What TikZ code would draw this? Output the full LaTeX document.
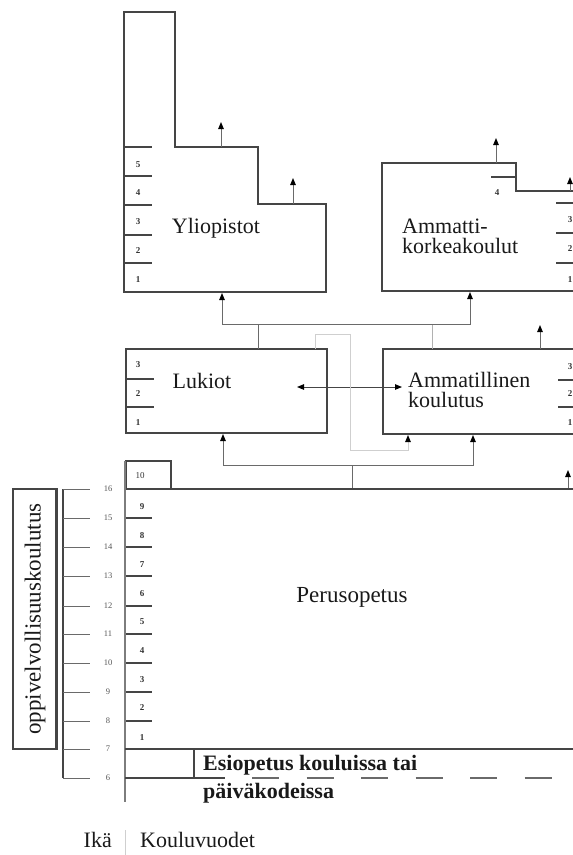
\documentclass[tikz,border=0pt]{standalone}
\usepackage{fontspec}
\setmainfont{Liberation Serif}
\usetikzlibrary{arrows.meta}
\definecolor{boxc}{HTML}{454545}
\definecolor{connc}{HTML}{6A6A6A}
\definecolor{lightc}{HTML}{CFCFCF}
\definecolor{agec}{HTML}{555555}
\newcommand\lblfont{\fontsize{22}{20}\selectfont}
\begin{document}
\begin{tikzpicture}[x=1pt,y=-1pt,
  box/.style={draw=boxc, line width=1.4pt},
  tick/.style={draw=boxc, line width=1.1pt},
  conn/.style={draw=connc, line width=1pt},
  lightline/.style={draw=lightc, line width=1pt},
  tip/.style={-{Triangle[length=7pt,width=5.5pt,color=black]}},
  arr/.style={conn, tip},
  lbl/.style={font=\lblfont, text=black!90, inner sep=0pt, align=left},
  yr/.style={font=\fontsize{9}{9}\selectfont\bfseries, text=black!80, inner sep=0pt},
  age/.style={font=\fontsize{8.5}{9}\selectfont, text=agec, inner sep=0pt}]
\useasboundingbox (0,0) rectangle (573,855);
\clip (0,0) rectangle (573,855);

% ---------------- Yliopistot
\draw[box] (124,12) -- (175,12) -- (175,147) -- (258,147) -- (258,204) -- (326,204) -- (326,292) -- (124,292) -- cycle;
\foreach \y in {147,176,205,235,263} \draw[tick] (124,\y) -- (152,\y);
\foreach \n/\y in {5/165,4/193,3/222,2/251,1/280} \node[yr] (ylioyr\n) at (138,\y) {\n};
\node[lbl, anchor=base] (ylio) at (216,233) {Yliopistot};
\coordinate (yA1) at (221,147); \coordinate (yA1e) at (221,122);
\coordinate (yA2) at (293,204); \coordinate (yA2e) at (293,178);
\draw[arr] (yA1) -- (yA1e);
\draw[arr] (yA2) -- (yA2e);

% ---------------- Ammattikorkeakoulut
\draw[box] (590,191) -- (516,191) -- (516,163) -- (382,163) -- (382,291) -- (590,291);
\draw[tick] (491,177) -- (516,177);
\draw[boxc, line width=2pt] (530,191) -- (541,191);
\node[yr] (akkyr4) at (497,193) {4};
\foreach \y in {203,233,263} \draw[tick] (556,\y) -- (590,\y);
\foreach \n/\y in {3/220,2/249,1/280} \node[yr] (akkyr\n) at (570,\y) {\n};
\node[lbl, anchor=base west] (akk) at (402,253) {Ammatti-\\korkeakoulut};
\coordinate (aA1) at (496,163); \coordinate (aA1e) at (496,138);
\coordinate (aA2) at (570,191); \coordinate (aA2e) at (570,177);
\draw[arr] (aA1) -- (aA1e);
\draw[arr] (aA2) -- (aA2e);

% ---------------- Lukiot
\draw[box] (126,349) rectangle (327,433);
\foreach \y in {379,407} \draw[tick] (126,\y) -- (154,\y);
\foreach \n/\y in {3/365,2/394,1/423} \node[yr] (lukyr\n) at (138,\y) {\n};
\node[lbl, anchor=base] (luk) at (202,388) {Lukiot};

% ---------------- Ammatillinen koulutus
\draw[box] (590,349) -- (383,349) -- (383,434) -- (590,434);
\foreach \y in {380,407} \draw[tick] (558,\y) -- (590,\y);
\foreach \n/\y in {3/367,2/394,1/423} \node[yr] (ammyr\n) at (570,\y) {\n};
\node[lbl, anchor=base west] (amm) at (408,407) {Ammatillinen\\koulutus};
\coordinate (mA) at (540,349); \coordinate (mAe) at (540,325);
\draw[arr] (mA) -- (mAe);

% ---------------- connectors between levels
\coordinate (dL) at (297,387); \coordinate (dR) at (402,387);
\draw[conn, draw=boxc, {Triangle[length=7pt,width=5.5pt,color=black]}-{Triangle[length=7pt,width=5.5pt,color=black]}] (dL) -- (dR);

\coordinate (busU) at (222,324); \coordinate (busU2) at (470,324);
\coordinate (ylioIn) at (222,293); \coordinate (akkIn) at (470,292);
\coordinate (lukTop) at (258,349); \coordinate (ammTop) at (432,349);
\draw[conn] (lukTop) -- (lukTop |- busU);
\draw[conn, draw=lightc!70!connc] (ammTop) -- (ammTop |- busU);
\draw[arr] (busU2) -- (busU) -- (ylioIn);
\draw[arr] (busU) -- (busU2) -- (akkIn);

\coordinate (lukTop2) at (315,349); \coordinate (ammIn2) at (408,435);
\draw[lightline, tip] (lukTop2) -- (315,334) -- (350,334) -- (350,450) -- (408,450) -- (ammIn2);

\coordinate (busL) at (223,465); \coordinate (busL2) at (473,465);
\coordinate (perTop) at (352,489);
\coordinate (lukIn) at (223,434); \coordinate (ammIn) at (473,435);
\draw[conn] (perTop) -- (perTop |- busL);
\draw[arr] (busL2) -- (busL) -- (lukIn);
\draw[arr] (busL) -- (busL2) -- (ammIn);
\coordinate (pA) at (568,489); \coordinate (pAe) at (568,470);
\draw[arr] (pA) -- (pAe);

% ---------------- Perusopetus
\draw[box] (125,489) -- (590,489);
\draw[box] (126,489) -- (126,461) -- (171,461) -- (171,489);
\node[yr, font=\fontsize{9}{9}\selectfont] (yr10) at (140,476) {10};
\draw[draw=boxc!70, line width=1.6pt] (125,461) -- (125,802);
\foreach \y in {518,547,576,606,634,663,692,721} \draw[tick] (126,\y) -- (152,\y);
\foreach \n/\y in {9/507,8/536,7/565,6/594,5/622,4/651,3/680,2/708,1/738} \node[yr] (peryr\n) at (142,\y) {\n};
\node[lbl, font=\fontsize{23}{23}\selectfont, anchor=base] (per) at (352,602) {Perusopetus};

% ---------------- Esiopetus
\draw[box] (125,749) -- (590,749);
\draw[box] (194,749) -- (194,778);
\draw[box, line width=1.2pt] (125,778) -- (225,778);
\draw[box, line width=1.2pt, draw=boxc!80, dash pattern=on 27pt off 27.5pt] (252,778) -- (590,778);
\node[lbl, font=\lblfont\bfseries, anchor=base west] (esi) at (203,770) {Esiopetus kouluissa tai};
\node[lbl, font=\lblfont\bfseries, anchor=base west] (esi2) at (203,798) {päiväkodeissa};

% ---------------- ages
\draw[draw=boxc, line width=1.2pt] (63,489) -- (63,778);
\foreach \a/\y in {16/489,15/518,14/547,13/576,12/606,11/634,10/663,9/692,8/721,7/749,6/778} {
  \draw[draw=connc, line width=1pt] (63,\y) -- (90,\y);
  \node[age] (age\a) at (108,\y) {\a};
}
\draw[box] (13,489) rectangle (57,749);
\draw[boxc, line width=1pt] (55,489) -- (55,749);
\node[lbl, font=\fontsize{23}{23}\selectfont, rotate=90] (oppi) at (35,619) {oppivelvollisuuskoulutus};

% ---------------- legend
\node[lbl, anchor=base east] (ika) at (112,847) {Ikä};
\draw[lightline] (125,830) -- (125,855);
\node[lbl, anchor=base west] (kv) at (140,847) {Kouluvuodet};
\end{tikzpicture}
\end{document}
